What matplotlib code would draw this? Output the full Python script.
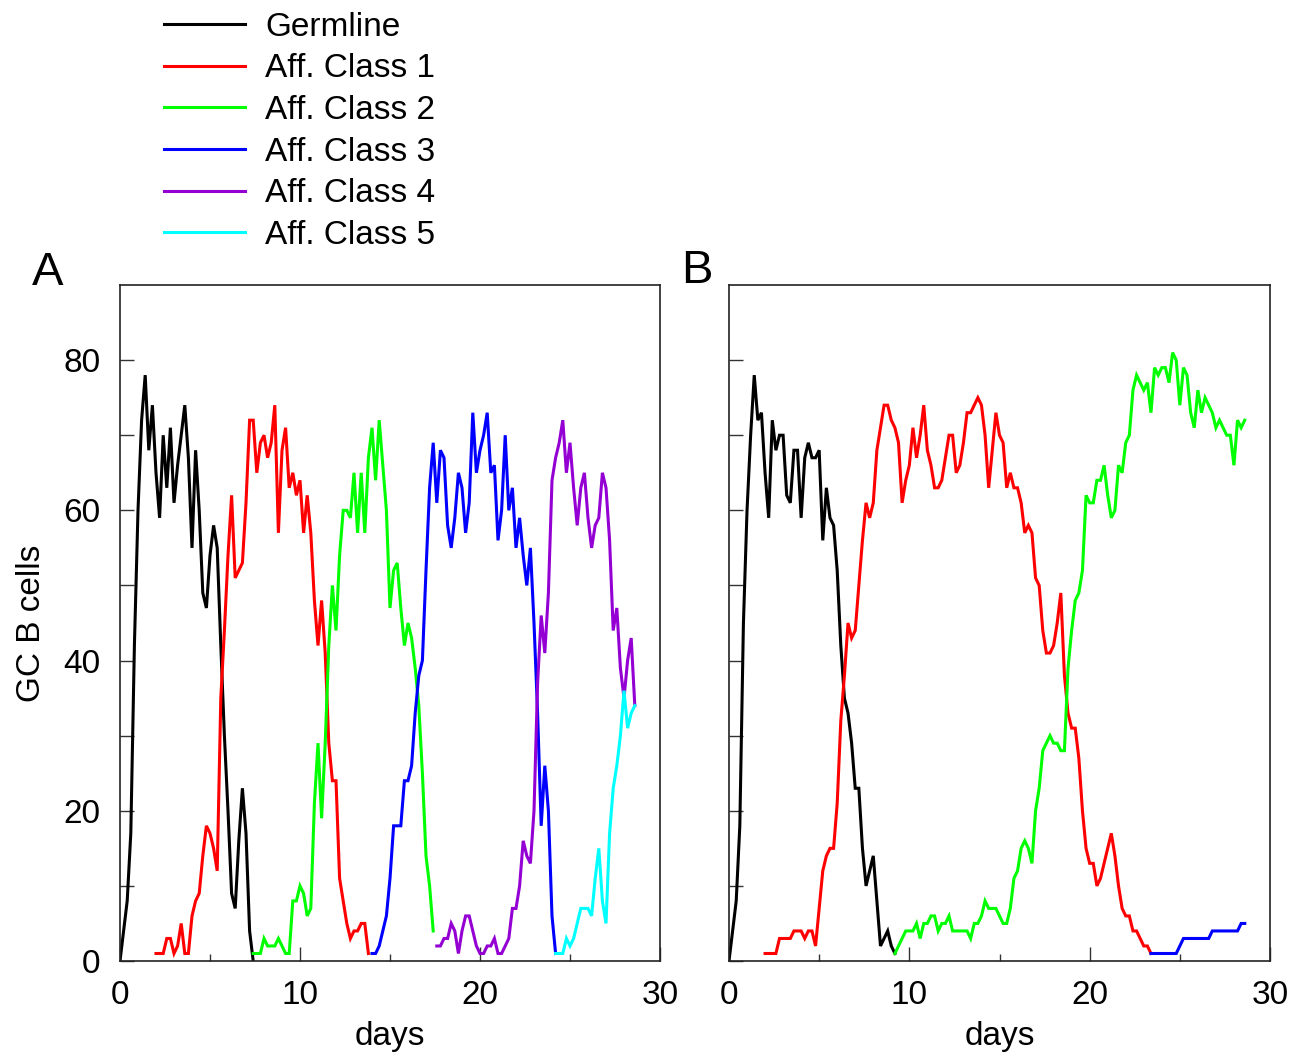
import numpy as np
import matplotlib
matplotlib.use("Agg")
import matplotlib.pyplot as plt
from matplotlib.ticker import MultipleLocator

plt.rcParams['font.family'] = ['Liberation Sans', 'DejaVu Sans']

STEP = 0.2  # days between read-off samples

labels = ["Germline", "Aff. Class 1", "Aff. Class 2", "Aff. Class 3", "Aff. Class 4", "Aff. Class 5"]
colors = ["#000000", "#ff0000", "#00ff00", "#0000ff", "#9400d3", "#00ffff"]

# ---------------- Panel A ----------------
a_germ_start = 0.0
a_germ = [0, 4, 8, 17, 42, 60, 72, 78, 68, 74, 65, 59, 70, 63, 71, 61, 66, 70, 74, 67,
          55, 68, 60, 49, 47, 54, 58, 55, 42, 30, 20, 9, 7, 16, 23, 17, 4, 0]

a_c1_start = 2.0
a_c1 = [1, 1, 1, 3, 3, 1, 2, 5, 1, 1, 6, 8, 9, 14, 18, 17, 15, 12, 35, 44,
        54, 62, 51, 52, 53, 61, 72, 72, 65, 69, 70, 67, 69, 74, 57, 68, 71, 63, 65, 62,
        64, 57, 62, 57, 48, 42, 48, 41, 29, 24, 24, 11, 8, 5, 3, 4, 4, 5, 5, 1]

a_c2_start = 7.4
a_c2 = [1, 1, 1, 3, 2, 2, 2, 3, 2, 1, 1, 8, 8, 10, 9, 6, 7, 21, 29, 19,
        29, 42, 50, 44, 54, 60, 60, 59, 65, 57, 65, 57, 67, 71, 64, 72, 66, 60, 47, 52,
        53, 47, 42, 45, 43, 39, 34, 25, 14, 10, 4]

a_c3_start = 14.0
a_c3 = [1, 1, 2, 4, 6, 11, 18, 18, 18, 24, 24, 26, 33, 38, 40, 52, 63, 69, 61, 68,
        67, 58, 55, 59, 65, 63, 57, 61, 73, 65, 68, 70, 73, 65, 66, 56, 60, 70, 60, 63,
        55, 59, 54, 50, 55, 45, 33, 18, 26, 20, 6, 1]

a_c4_start = 17.6
a_c4 = [2, 2, 3, 3, 5, 4, 1, 4, 6, 6, 4, 2, 1, 1, 2, 2, 3, 1, 1, 2,
        3, 7, 7, 10, 16, 14, 13, 20, 37, 46, 41, 49, 64, 67, 69, 72, 65, 69, 63, 58,
        63, 65, 59, 55, 58, 59, 65, 63, 56, 44, 47, 39, 35, 40, 43, 34]

a_c5_start = 24.2
a_c5 = [1, 1, 1, 3, 2, 3, 5, 7, 7, 7, 6, 11, 15, 8, 5, 17, 23, 26, 30, 36,
        31, 33, 34]

# ---------------- Panel B ----------------
b_germ_start = 0.0
b_germ = [0, 4, 8, 18, 45, 60, 70, 78, 72, 73, 65, 59, 72, 68, 70, 70, 62, 61, 68, 68,
          59, 67, 69, 67, 67, 68, 56, 63, 59, 58, 52, 42, 35, 33, 29, 23, 23, 15, 10, 12,
          14, 8, 2, 3, 4, 2, 1]

b_c1_start = 2.0
b_c1 = [1, 1, 1, 1, 3, 3, 3, 3, 4, 4, 4, 3, 4, 4, 2, 7, 12, 14, 15, 15,
        21, 32, 38, 45, 43, 44, 50, 56, 61, 59, 61, 68, 71, 74, 74, 72, 71, 69, 61, 64,
        66, 71, 67, 70, 74, 68, 66, 63, 63, 64, 67, 70, 70, 65, 66, 69, 73, 73, 74, 75,
        74, 70, 63, 68, 73, 70, 69, 63, 65, 63, 63, 61, 57, 58, 57, 51, 50, 44, 41, 41,
        42, 45, 49, 38, 33, 31, 31, 27, 20, 15, 13, 13, 10, 11, 13, 15, 17, 14, 10, 7,
        6, 6, 4, 4, 3, 2, 2, 1]

b_c2_start = 9.2
b_c2 = [1, 2, 3, 4, 4, 4, 5, 3, 5, 5, 6, 6, 4, 5, 5, 6, 4, 4, 4, 4,
        4, 3, 5, 5, 6, 8, 7, 7, 7, 6, 5, 5, 7, 11, 12, 15, 16, 15, 13, 20,
        23, 28, 29, 30, 29, 29, 28, 28, 39, 44, 48, 49, 52, 62, 61, 61, 64, 64, 66, 62,
        59, 60, 66, 65, 69, 70, 76, 78, 77, 76, 77, 73, 79, 78, 79, 79, 77, 81, 80, 74,
        79, 78, 73, 71, 76, 73, 75, 74, 73, 71, 72, 71, 70, 70, 66, 72, 71, 72]

b_c3_start = 23.4
b_c3 = [1, 1, 1, 1, 1, 1, 1, 1, 2, 3, 3, 3, 3, 3, 3, 3, 3, 4, 4, 4,
        4, 4, 4, 4, 4, 5, 5]

panel_a = [(a_germ_start, a_germ), (a_c1_start, a_c1), (a_c2_start, a_c2),
           (a_c3_start, a_c3), (a_c4_start, a_c4), (a_c5_start, a_c5)]
panel_b = [(b_germ_start, b_germ), (b_c1_start, b_c1), (b_c2_start, b_c2),
           (b_c3_start, b_c3)]

W, H = 1308, 1059
fig = plt.figure(figsize=(W / 100, H / 100), dpi=100)
axA = fig.add_axes([120 / W, (H - 961) / H, 540 / W, 676 / H])
axB = fig.add_axes([729 / W, (H - 961) / H, 541 / W, 676 / H])

FS = 24
handles = []
for ax, series in ((axA, panel_a), (axB, panel_b)):
    for i, (t0, vals) in enumerate(series):
        t = t0 + STEP * np.arange(len(vals))
        ln, = ax.plot(t, vals, color=colors[i], lw=2.2, solid_joinstyle='miter')
        if ax is axA:
            handles.append(ln)
    ax.set_xlim(0, 30)
    ax.set_ylim(0, 90)
    ax.xaxis.set_major_locator(MultipleLocator(10))
    ax.xaxis.set_minor_locator(MultipleLocator(5))
    ax.set_yticks([0, 20, 40, 60, 80])
    ax.set_yticks([10, 30, 50, 70], minor=True)
    ax.tick_params(axis='both', which='both', direction='in', top=False, right=False,
                   labelsize=FS, pad=14, width=1.0, color='#333333')
    ax.tick_params(axis='y', which='both', length=10)
    ax.tick_params(axis='x', which='major', length=10)
    ax.tick_params(axis='x', which='minor', length=5)
    for sp in ax.spines.values():
        sp.set_linewidth(1.2)
        sp.set_color('#222222')
    ax.set_xlabel("days", fontsize=FS, labelpad=7)

axA.set_ylabel("GC B cells", fontsize=FS, labelpad=12)
axB.tick_params(axis='y', which='both', labelleft=False)

fig.text(32 / W, 1 - 273 / H, "A", fontsize=34, va='center', ha='left')
fig.text(681 / W, 1 - 271 / H, "B", fontsize=34, va='center', ha='left')

fig.legend(handles, labels, loc='upper left', bbox_to_anchor=(157 / W, 1 - 5 / H),
           frameon=False, fontsize=FS, handlelength=2.45, handletextpad=0.6,
           labelspacing=0.32, borderpad=0.2, borderaxespad=0.0)

fig.savefig("out.png", dpi=100)
